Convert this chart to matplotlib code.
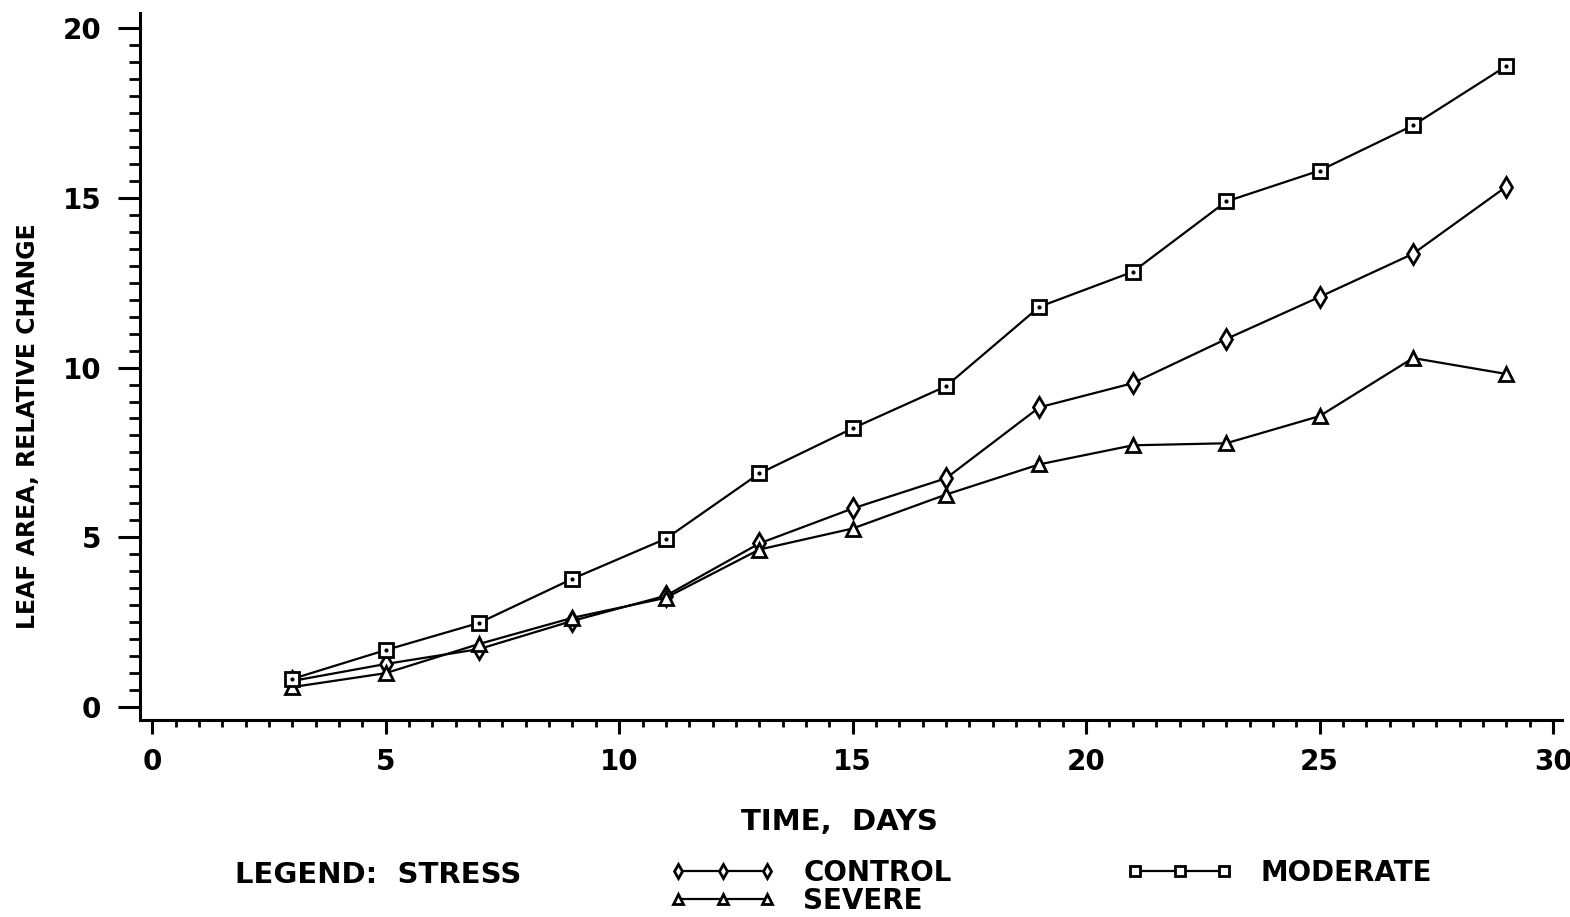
import matplotlib
matplotlib.use("Agg")
import matplotlib.pyplot as plt
from matplotlib.ticker import MultipleLocator

plt.rcParams['font.family'] = ['DejaVu Sans']
plt.rcParams['font.weight'] = 'bold'

days = [3, 5, 7, 9, 11, 13, 15, 17, 19, 21, 23, 25, 27, 29]
control = [0.77, 1.27, 1.71, 2.54, 3.28, 4.82, 5.85, 6.74, 8.83, 9.54, 10.84, 12.08, 13.35, 15.33]
moderate = [0.83, 1.68, 2.48, 3.78, 4.96, 6.88, 8.21, 9.45, 11.79, 12.82, 14.89, 15.80, 17.13, 18.88]
severe = [0.59, 1.00, 1.86, 2.63, 3.22, 4.64, 5.26, 6.26, 7.15, 7.71, 7.77, 8.57, 10.28, 9.81]

fig = plt.figure(figsize=(15.7, 9.17), dpi=100)
ax = fig.add_axes([0.0892, 0.2148, 0.906, 0.771])

style = dict(color='black', lw=1.6, markerfacecolor='white',
             markeredgecolor='black', markeredgewidth=2.0)
h1, = ax.plot(days, control, marker='d', ms=10, label='CONTROL', **style)
h3, = ax.plot(days, severe, marker='^', ms=10, label='SEVERE', **style)
h2, = ax.plot(days, moderate, marker='s', ms=10, label='MODERATE', **style)
# small dot in the middle of each square marker
ax.plot(days, moderate, ls='none', marker='.', ms=4, color='black')

ax.set_xlim(-0.26, 30.2)
ax.set_ylim(-0.38, 20.44)
ax.xaxis.set_major_locator(MultipleLocator(5))
ax.xaxis.set_minor_locator(MultipleLocator(0.5))
ax.yaxis.set_major_locator(MultipleLocator(5))
ax.yaxis.set_minor_locator(MultipleLocator(0.5))

for side in ['top', 'right']:
    ax.spines[side].set_visible(False)
for side in ['left', 'bottom']:
    ax.spines[side].set_linewidth(2.2)

ax.tick_params(axis='x', which='major', direction='out', length=10, width=2.2,
               labelsize=20, pad=10)
ax.tick_params(axis='x', which='minor', direction='out', length=5, width=2.0)
ax.tick_params(axis='y', which='major', direction='out', length=16, width=2.2,
               labelsize=20, pad=12)
ax.tick_params(axis='y', which='minor', direction='out', length=8, width=2.0)

ax.set_xlabel('TIME,  DAYS', fontsize=21, fontweight='bold')
ax.xaxis.set_label_coords(0.492, -0.124)
ax.set_ylabel('LEAF AREA, RELATIVE CHANGE', fontsize=17, fontweight='bold')
ax.yaxis.set_label_coords(-0.0703, 0.416)

fig.text(0.1497, 0.0458, 'LEGEND:  STRESS', fontsize=21, va='center')
fig.legend(handles=[h1, h3, h2], loc='center left', bbox_to_anchor=(0.418, 0.033),
           ncol=2, numpoints=3, handlelength=3.8, frameon=False, fontsize=20,
           labelspacing=0.0, columnspacing=6.3, handletextpad=1.0,
           borderpad=0.0, markerscale=0.75)

fig.savefig('out.png', dpi=100)
